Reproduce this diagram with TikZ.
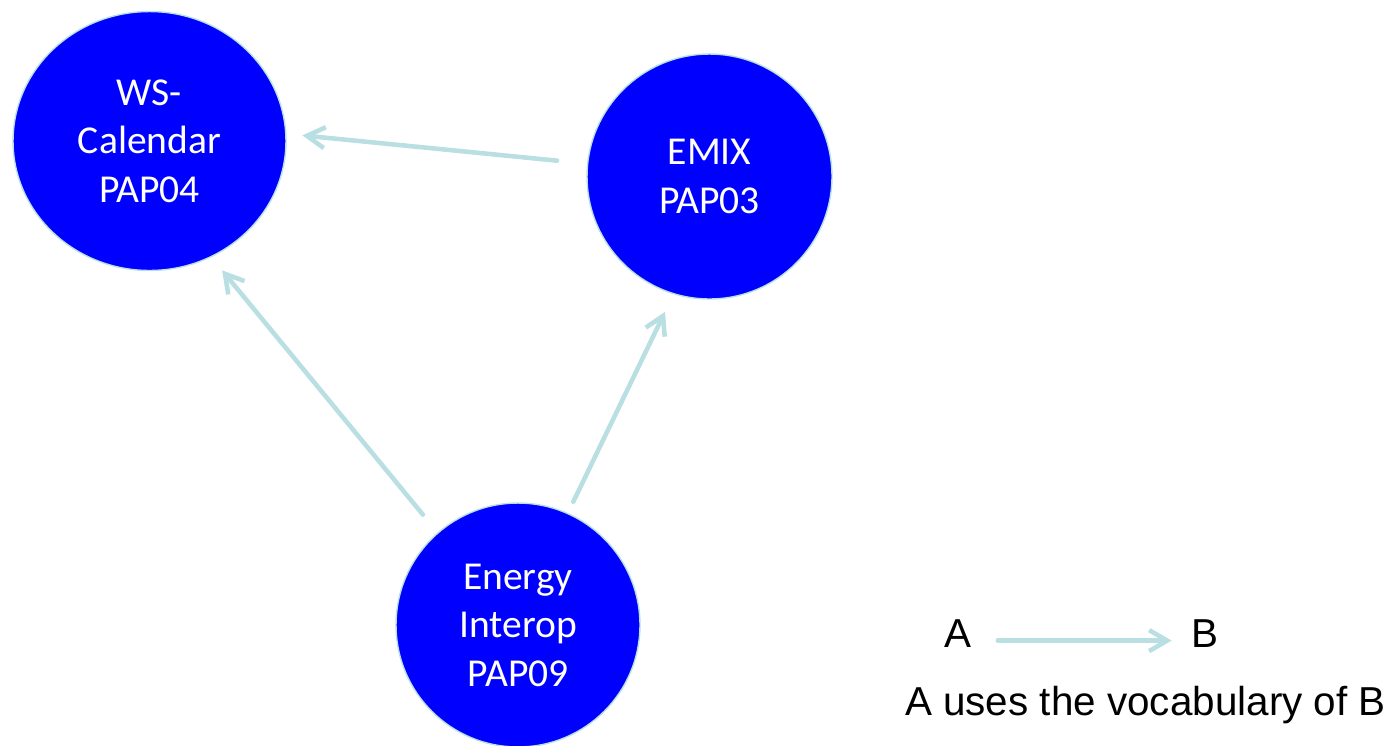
\documentclass[tikz,border=0pt]{standalone}
\usepackage{fontspec}
\usepackage{xcolor}
\usepackage{tikz}
\usetikzlibrary{arrows.meta,shapes.geometric}
\newfontfamily\papfont{Carlito}
\newfontfamily\legendfont{Liberation Sans}
\definecolor{linkblue}{HTML}{B9DFE2}

\begin{document}
\begin{tikzpicture}[x=0.02cm, y=-0.02cm,
  pap/.style={ellipse, fill=blue, draw=linkblue, line width=0.8pt, text=white, align=center,
    inner sep=0pt, font=\papfont\fontsize{22.5}{27.6}\selectfont},
  uses/.style={draw=linkblue, line width=2.6pt, line cap=round,
    -{Straight Barb[length=0.36cm,width=0.42cm]}},
  legend/.style={anchor=base, inner sep=0pt, font=\legendfont\fontsize{23}{28}\selectfont}]
\useasboundingbox (0,0) rectangle (1392,745);
\node[pap, minimum width=5.46cm, minimum height=5.18cm] (ws) at (149.5,141) {WS-\\Calendar\\PAP04};
\node[pap, minimum size=4.9cm] (emix) at (709.5,176.5) {EMIX\\PAP03};
\node[pap, minimum size=4.88cm] (ei) at (518,625) {Energy\\Interop\\PAP09};
\draw[uses, shorten <=0.6cm, shorten >=0.32cm] (emix.174) -- (ws.3);
\draw[uses, shorten <=0.46cm, shorten >=0.34cm] (ei.131) -- (ws.-62);
\draw[uses, shorten <=0.25cm, shorten >=0.39cm] (ei.66) -- (emix.253);
% legend
\node[legend] (a) at (958,647) {A};
\node[legend] (b) at (1204.5,647) {B};
\draw[uses, shorten <=0.52cm, shorten >=0.38cm] ([yshift=-0.15cm]a.east) -- ([yshift=-0.15cm]b.west);
\node[legend] (key) at (1145.5,715) {A uses the vocabulary of B};
\end{tikzpicture}
\end{document}
